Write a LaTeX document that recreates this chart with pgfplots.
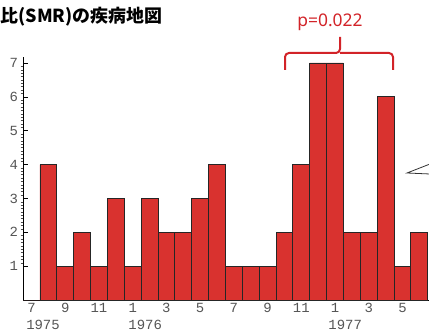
\documentclass[border=0pt]{standalone}
\usepackage{pgfplots}
\pgfplotsset{compat=1.18}
\usepackage{fontspec}
\setmainfont{Noto Sans}
\newfontfamily\cjk{Noto Sans CJK JP}
\newfontfamily\tickfont{Liberation Mono}
\definecolor{barred}{RGB}{217,50,47}
\definecolor{annot}{RGB}{210,35,40}
\definecolor{tickgray}{RGB}{85,85,85}
\begin{document}
\begin{tikzpicture}[x=1bp,y=1bp]
\clip (0,0) rectangle (429,332);
\begin{axis}[
  at={(23.1bp,32bp)}, anchor=south west,
  scale only axis, width=405.5bp, height=243.1bp,
  xmin=0, xmax=24.05, ymin=0, ymax=7.18,
  axis x line=bottom, axis y line=left,
  axis line style={-, black, line width=0.8bp},
  xtick={0.5,2.5,...,22.5},
  xticklabels={7,9,11,1,3,5,7,9,11,1,3,5},
  xtick style={draw=none},
  ytick={1,...,7},
  minor y tick num=9,
  tick align=inside,
  major tick length=5bp,
  minor tick length=2.5bp,
  minor y tick style={xshift=-2.5bp, line width=0.5bp, black!70},
  major y tick style={line width=0.7bp, black},
  /pgf/number format/assume math mode=true,
  tick label style={font=\tickfont\fontsize{14}{14}\selectfont, text=tickgray},
  xticklabel style={anchor=north, inner sep=0pt, yshift=-3bp},
  yticklabel style={anchor=east, inner sep=0pt, xshift=-5bp},
  clip=false,
]
\addplot[ybar, bar width=1, bar shift=0, fill=barred, draw=black!85, line width=0.9bp]
  coordinates {
  (0.5,0) (1.5,4) (2.5,1) (3.5,2) (4.5,1) (5.5,3) (6.5,1) (7.5,3)
  (8.5,2) (9.5,2) (10.5,3) (11.5,4) (12.5,1) (13.5,1) (14.5,1) (15.5,2)
  (16.5,4) (17.5,7) (18.5,7) (19.5,2) (20.5,2) (21.5,6) (22.5,1) (23.5,2)
  };
\node[font=\tickfont\fontsize{14}{14}\selectfont, text=tickgray, anchor=north, inner sep=0pt, yshift=-20bp] at (axis cs:1.18,0) {1975};
\node[font=\tickfont\fontsize{14}{14}\selectfont, text=tickgray, anchor=north, inner sep=0pt, yshift=-20bp] at (axis cs:7.24,0) {1976};
\node[font=\tickfont\fontsize{14}{14}\selectfont, text=tickgray, anchor=north, inner sep=0pt, yshift=-20bp] at (axis cs:19.1,0) {1977};
\end{axis}
\draw[annot, line width=2bp, rounded corners=4bp] (285,262) -- (285,279) -- (340,279) -- (340,295);
\draw[annot, line width=2bp, rounded corners=4bp] (340,279) -- (393,279) -- (393,262);
\node[text=annot, font=\fontsize{17.5}{17.5}\selectfont, anchor=base, inner sep=0pt] at (330,306) {p=0.022};
\node[font=\cjk\bfseries\fontsize{18}{18}\selectfont, anchor=west, inner sep=0pt] at (0.5,315.5) {比(SMR)の疾病地図};
\draw[black!80, line width=0.8bp] (430,168) -- (407,159) -- (430,158);
\end{tikzpicture}
\end{document}
